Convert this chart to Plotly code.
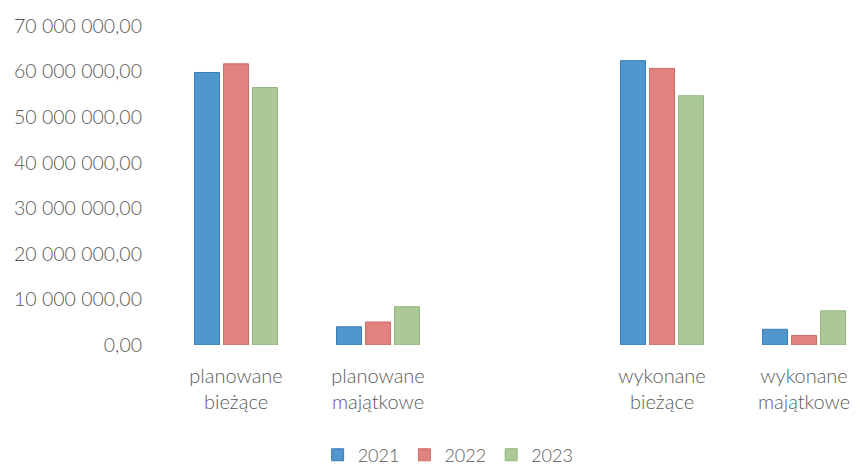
import plotly.graph_objects as go

categories = ["planowane<br>bieżące", "planowane<br>majątkowe", " ", "wykonane<br>bieżące", "wykonane<br>majątkowe"]
series_names = ["2021", "2022", "2023"]
values_2021 = [59.8e6, 4.0e6, None, 62.4e6, 3.45e6]
values_2022 = [61.7e6, 5.05e6, None, 60.7e6, 2.1e6]
values_2023 = [56.5e6, 8.4e6, None, 54.7e6, 7.5e6]
y_ticks = [0, 10e6, 20e6, 30e6, 40e6, 50e6, 60e6, 70e6]
y_tick_labels = ["0,00", "10 000 000,00", "20 000 000,00", "30 000 000,00",
                 "40 000 000,00", "50 000 000,00", "60 000 000,00", "70 000 000,00"]

colors = ["#5296cf", "#e0827e", "#abc996"]
edges = ["#3a7cb8", "#cf6b66", "#93b57d"]
font_color = "#5a5a5a"
font_family = "Lato, 'Open Sans', sans-serif"

fig = go.Figure()
for name, vals, c, e in zip(series_names, [values_2021, values_2022, values_2023], colors, edges):
    fig.add_trace(go.Bar(x=categories, y=vals, name=name,
                         marker=dict(color=c, line=dict(color=e, width=1))))

fig.update_layout(
    width=851, height=457,
    margin=dict(l=157, r=0, t=18, b=120, autoexpand=False),
    paper_bgcolor="white", plot_bgcolor="white",
    barmode="group", bargap=0.387, bargroupgap=0.14,
    font=dict(family=font_family, color=font_color, size=20, weight=300),
    showlegend=True,
    legend=dict(orientation="h", x=0.408, y=-0.345, xanchor="center", yanchor="middle",
                font=dict(size=18, color=font_color, weight=300), itemwidth=30,
                traceorder="normal"),
)
fig.update_xaxes(type="category", categoryorder="array", categoryarray=categories,
                 range=[-0.5, 4.387], showgrid=False, showline=False, zeroline=False,
                 automargin=False,
                 ticks="", ticklabelstandoff=17, tickfont=dict(size=20, color=font_color, weight=300))
fig.update_yaxes(range=[0, 70e6], tickvals=y_ticks, ticktext=y_tick_labels,
                 showgrid=False, showline=False, zeroline=False, ticks="", automargin=False,
                 ticklabelstandoff=22, tickfont=dict(size=19.5, color=font_color, weight=300))

fig.write_html("out.html")
